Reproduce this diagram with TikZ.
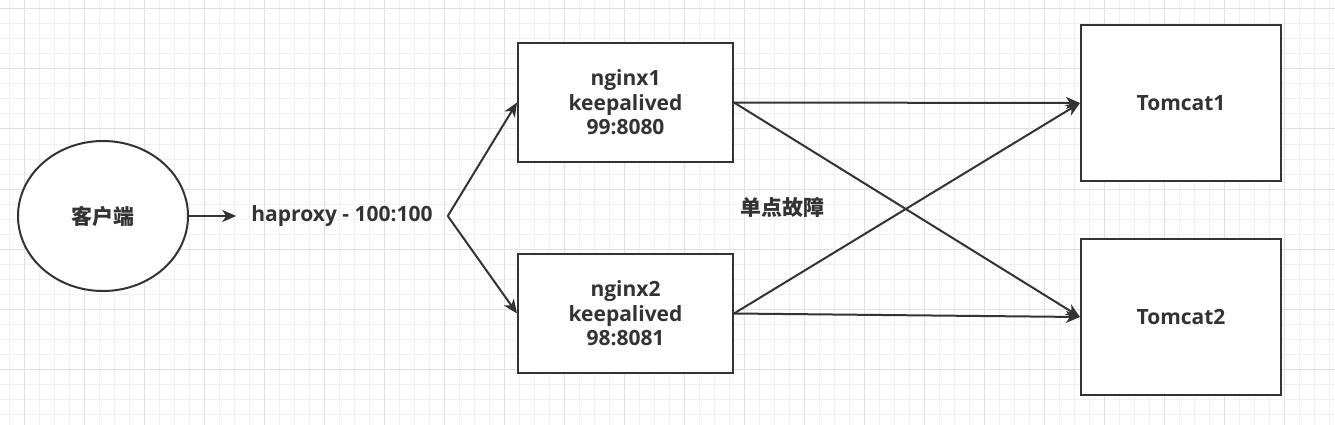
\documentclass[tikz,border=0pt]{standalone}
\usepackage{fontspec}
\setmainfont{Open Sans}
\newfontfamily\cjk{Noto Sans CJK SC}
\usepackage{tikz}
\usetikzlibrary{shapes.geometric,arrows.meta}
\definecolor{linegray}{HTML}{333333}
\definecolor{gridminor}{HTML}{F0F0F0}
\definecolor{gridmajor}{HTML}{E0E0E0}

\begin{document}
\begin{tikzpicture}[x=1pt,y=-1pt,
    txt/.style={font=\bfseries\fontsize{21}{24.5}\selectfont,text=linegray,align=center},
    nginxbox/.style={txt,draw=linegray,line width=2pt,rectangle,inner sep=0pt,
      minimum width=215pt,minimum height=119pt},
    tomcatbox/.style={nginxbox,minimum width=200pt,minimum height=156pt},
    clientnode/.style={txt,draw=linegray,line width=2pt,ellipse,inner sep=0pt,
      minimum width=170pt,minimum height=150pt},
    link/.style={draw=linegray,line width=2pt,
      -{Stealth[length=14pt,width=12pt,inset=4pt]}}]
  \useasboundingbox[fill=white] (0,0) rectangle (1335,425);

  % background grid
  \foreach \gx in {9,24,...,1334}
    \draw[gridminor,line width=1pt] (\gx,0) -- (\gx,425);
  \foreach \gy in {9,24,...,424}
    \draw[gridminor,line width=1pt] (0,\gy) -- (1335,\gy);
  \foreach \gx in {24,84,...,1334}
    \draw[gridmajor,line width=1pt] (\gx,0) -- (\gx,425);
  \foreach \gy in {9,69,...,424}
    \draw[gridmajor,line width=1pt] (0,\gy) -- (1335,\gy);

  \node[clientnode,fill=white] (client) at (103,216) {\cjk 客户端};
  \node[txt,inner xsep=15pt] (haproxy) at (342,216) {haproxy - 100:100};

  \node[nginxbox,fill=white] (nginx1) at (625.5,102.5) {nginx1\\keepalived\\99:8080};
  \node[nginxbox,fill=white] (nginx2) at (625.5,313.5) {nginx2\\keepalived\\98:8081};

  \node[tomcatbox,fill=white] (tomcat1) at (1181,103) {Tomcat1};
  \node[tomcatbox,fill=white] (tomcat2) at (1181,317) {Tomcat2};

  \node[txt] (fault) at (782,207) {\cjk 单点故障};

  \draw[link] (client) -- (haproxy);
  \draw[link] (haproxy.east) -- (nginx1.west);
  \draw[link] (haproxy.east) -- (nginx2.west);

  \draw[link] (nginx1.east) -- (tomcat1.west);
  \draw[link] (nginx1.east) -- (tomcat2.west);
  \draw[link] (nginx2.east) -- (tomcat1.west);
  \draw[link] (nginx2.east) -- (tomcat2.west);
\end{tikzpicture}
\end{document}
